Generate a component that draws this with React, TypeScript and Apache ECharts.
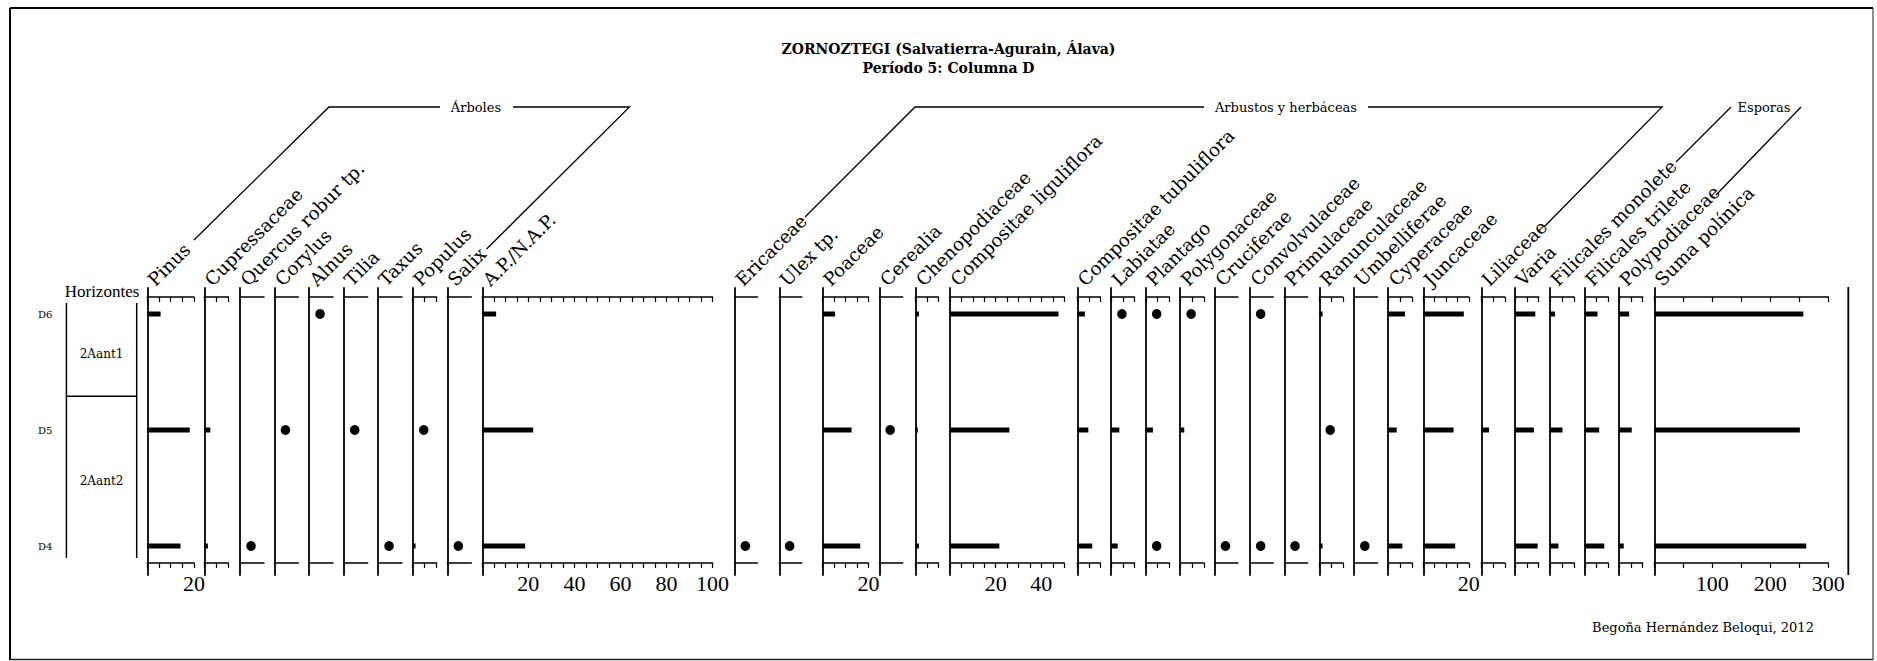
import React, { useEffect, useRef } from 'react';
import * as echarts from 'echarts';

// Pollen diagram: Zornoztegi, period 5, column D.
// Each cell is a percentage; '+' marks a taxon that is present but scarce; null is absence.
type Cell = number | '+' | null;

const samples = ['D6', 'D5', 'D4'];

const taxa = [
  'Pinus', 'Cupressaceae', 'Quercus robur tp.', 'Corylus', 'Alnus', 'Tilia', 'Taxus', 'Populus', 'Salix',
  'A.P./N.A.P.', 'Ericaceae', 'Ulex tp.', 'Poaceae', 'Cerealia', 'Chenopodiaceae', 'Compositae liguliflora',
  'Compositae tubuliflora', 'Labiatae', 'Plantago', 'Polygonaceae', 'Cruciferae', 'Convolvulaceae',
  'Primulaceae', 'Ranunculaceae', 'Umbelliferae', 'Cyperaceae', 'Juncaceae', 'Liliaceae', 'Varia',
  'Filicales monolete', 'Filicales trilete', 'Polypodiaceae', 'Suma polínica',
];

// values per sample, in the order D6, D5, D4
const pinus: Cell[] = [5.7, 18.2, 14.2];
const cupressaceae: Cell[] = [null, 2.5, 1.5];
const quercusRobur: Cell[] = [null, null, '+'];
const corylus: Cell[] = [null, '+', null];
const alnus: Cell[] = ['+', null, null];
const tilia: Cell[] = [null, '+', null];
const taxus: Cell[] = [null, null, '+'];
const populus: Cell[] = [null, '+', 1.2];
const salix: Cell[] = [null, null, '+'];
const apNap: Cell[] = [6.0, 22.1, 18.6];
const ericaceae: Cell[] = [null, null, '+'];
const ulex: Cell[] = [null, null, '+'];
const poaceae: Cell[] = [5.4, 12.6, 16.4];
const cerealia: Cell[] = [null, '+', null];
const chenopodiaceae: Cell[] = [1.5, 1.0, 1.5];
const compositaeLiguliflora: Cell[] = [47.5, 26.0, 21.6];
const compositaeTubuliflora: Cell[] = [3.3, 4.8, 6.5];
const labiatae: Cell[] = ['+', 3.5, 2.8];
const plantago: Cell[] = ['+', 3.0, '+'];
const polygonaceae: Cell[] = ['+', 1.7, null];
const cruciferae: Cell[] = [null, null, '+'];
const convolvulaceae: Cell[] = ['+', null, '+'];
const primulaceae: Cell[] = [null, null, '+'];
const ranunculaceae: Cell[] = [1.3, '+', 1.3];
const umbelliferae: Cell[] = [null, null, '+'];
const cyperaceae: Cell[] = [7.1, 3.6, 6.0];
const juncaceae: Cell[] = [17.8, 13.3, 14.0];
const liliaceae: Cell[] = [null, 3.3, null];
const varia: Cell[] = [8.6, 8.0, 9.6];
const filicalesMonolete: Cell[] = [2.1, 5.2, 3.5];
const filicalesTrilete: Cell[] = [5.4, 6.1, 8.3];
const polypodiaceae: Cell[] = [4.3, 5.4, 2.0];
const sumaPolinica: Cell[] = [257, 251, 262];

const values: Cell[][] = [
  pinus, cupressaceae, quercusRobur, corylus, alnus, tilia, taxus, populus, salix, apNap,
  ericaceae, ulex, poaceae, cerealia, chenopodiaceae, compositaeLiguliflora, compositaeTubuliflora,
  labiatae, plantago, polygonaceae, cruciferae, convolvulaceae, primulaceae, ranunculaceae,
  umbelliferae, cyperaceae, juncaceae, liliaceae, varia, filicalesMonolete, filicalesTrilete,
  polypodiaceae, sumaPolinica,
];

// axis maxima (percent, or pollen count for the sum)
const axisMax = [
  20, 10, 10, 10, 10, 10, 10, 10, 10, 100,
  10, 10, 20, 10, 10, 50, 10, 10, 10, 10, 10, 10, 10, 10, 10, 10, 20, 10, 10, 10, 10, 10, 300,
];

// bottom tick labels
const pinusTicks = [20];
const apTicks = [20, 40, 60, 80, 100];
const poaceaeTicks = [20];
const ligulifloraTicks = [20, 40];
const juncaceaeTicks = [20];
const sumaTicks = [100, 200, 300];

// stratigraphic horizons, bounded in sample-row units
const horizonNames = ['2Aant1', '2Aant2'];
const horizonTop = [-0.095, 0.71];
const horizonBottom = [0.71, 2.103];

// value at which a scarce taxon's dot is placed
const PRESENCE_AT = 4.6;

// ---- layout ----
const panelLeft = [
  147.3, 204.3, 240, 274.4, 309, 343.7, 378, 412.7, 447.3, 482.3,
  735, 779.3, 822.7, 879.5, 915.5, 950, 1077.3, 1111.2, 1145.8, 1180.2, 1214.8, 1250,
  1284.3, 1319.5, 1354, 1388.2, 1423.3, 1481.3, 1515, 1550, 1584.8, 1619, 1654.3,
];
const panelWidth = [
  46.7, 24, 24, 24, 24, 24, 24, 24, 24, 230.3,
  22.5, 22.5, 45.8, 23.2, 22.8, 114.2, 23, 23.3, 23.7, 23.8, 23.2, 23.2,
  23.3, 23.3, 23.5, 23.6, 45.5, 23.5, 23.6, 24, 23.5, 23.6, 174,
];
const tickLabels: Record<number, number[]> = {
  0: pinusTicks, 9: apTicks, 12: poaceaeTicks, 15: ligulifloraTicks, 26: juncaceaeTicks, 32: sumaTicks,
};

const GRID_TOP = 288;
const GRID_H = 287;
const ROW_GAP = 116;
const Y_MIN = -26 / ROW_GAP;
const Y_MAX = 2 + 29 / ROW_GAP;
const TOP_AXIS_OFFSET = -9;
const BOTTOM_AXIS_OFFSET = -12;
const BAR_H = 5;

const SERIF = '"DejaVu Serif", serif';
const NUM_SERIF = '"Liberation Serif", serif';
const INK = '#000';

function buildOption(): echarts.EChartsOption {
  const grids: any[] = [];
  const xAxes: any[] = [];
  const yAxes: any[] = [];
  const series: any[] = [];
  const graphics: any[] = [];

  taxa.forEach((name, i) => {
    const vals = values[i];
    const hasBars = vals.some((v) => typeof v === 'number');
    const tickStep = axisMax[i] === 300 ? 50 : 5;
    const labels = tickLabels[i] || [];

    grids.push({
      left: panelLeft[i], top: GRID_TOP, width: panelWidth[i], height: GRID_H,
      containLabel: false, outerBoundsMode: 'none',
    });

    const axisBase = {
      gridIndex: i, type: 'value', min: 0, max: axisMax[i], interval: tickStep,
      splitLine: { show: false },
      axisLine: { show: true, onZero: false, lineStyle: { color: INK, width: 1.5 } },
    };
    xAxes.push({
      ...axisBase, position: 'top', offset: TOP_AXIS_OFFSET,
      axisTick: { show: hasBars, inside: true, length: 5, lineStyle: { color: INK, width: 1.2 } },
      axisLabel: { show: false },
    });
    xAxes.push({
      ...axisBase, position: 'bottom', offset: BOTTOM_AXIS_OFFSET,
      axisTick: { show: hasBars, inside: false, length: 5, lineStyle: { color: INK, width: 1.2 } },
      axisLabel: {
        show: labels.length > 0, customValues: labels, margin: 9,
        color: INK, fontFamily: NUM_SERIF, fontSize: 22,
      },
    });
    yAxes.push({
      gridIndex: i, type: 'value', min: Y_MIN, max: Y_MAX, inverse: true,
      axisLine: { show: true, onZero: false, lineStyle: { color: INK, width: 1.8 } },
      axisTick: { show: false }, axisLabel: { show: false }, splitLine: { show: false },
    });

    const bars: number[][] = [];
    const dots: number[][] = [];
    vals.forEach((v, row) => {
      if (typeof v === 'number') bars.push([v, row]);
      else if (v === '+') dots.push([PRESENCE_AT, row]);
    });

    if (bars.length) {
      series.push({
        type: 'custom', name, xAxisIndex: 2 * i + 1, yAxisIndex: i, data: bars,
        renderItem: (_p: any, api: any) => {
          const v = api.value(0);
          const r = api.value(1);
          const a = api.coord([0, r]);
          const b = api.coord([v, r]);
          return {
            type: 'rect',
            shape: { x: a[0], y: a[1] - BAR_H / 2, width: b[0] - a[0], height: BAR_H },
            style: { fill: INK },
          };
        },
      });
    }
    if (dots.length) {
      series.push({
        type: 'scatter', name, xAxisIndex: 2 * i + 1, yAxisIndex: i, data: dots,
        symbol: 'circle', symbolSize: [9.5, 10], itemStyle: { color: INK, opacity: 1 },
      });
    }

    graphics.push({
      type: 'text', x: panelLeft[i] + 10, y: 289, rotation: Math.PI / 4,
      style: {
        text: name, x: 0, y: 0, fill: INK, fontFamily: SERIF, fontSize: 18.3,
        textAlign: 'left', textVerticalAlign: 'bottom', align: 'left', verticalAlign: 'bottom',
      },
    });
  });

  // horizons column with the sample names
  const hi = taxa.length;
  grids.push({ left: 66.4, top: GRID_TOP, width: 70.3, height: GRID_H, containLabel: false, outerBoundsMode: 'none' });
  xAxes.push({ gridIndex: hi, type: 'value', min: 0, max: 1, show: false });
  yAxes.push({
    gridIndex: hi, type: 'value', min: Y_MIN, max: Y_MAX, inverse: true,
    axisLine: { show: false }, axisTick: { show: false }, splitLine: { show: false },
    axisLabel: {
      show: true, customValues: [0, 1, 2], formatter: (v: number) => samples[Math.round(v)],
      margin: 14, color: INK, fontFamily: SERIF, fontSize: 10,
    },
  });
  series.push({
    type: 'custom', name: 'Horizontes', xAxisIndex: 2 * hi, yAxisIndex: hi,
    data: horizonNames.map((_, k) => [horizonTop[k], horizonBottom[k]]),
    renderItem: (p: any, api: any) => {
      const k = p.dataIndex;
      const tl = api.coord([0, api.value(0)]);
      const br = api.coord([1, api.value(1)]);
      const ls = { stroke: INK, lineWidth: 1.5 };
      const children: any[] = [
        { type: 'line', shape: { x1: tl[0], y1: tl[1], x2: tl[0], y2: br[1] }, style: ls },
        { type: 'line', shape: { x1: br[0], y1: tl[1], x2: br[0], y2: br[1] }, style: ls },
        {
          type: 'text', x: (tl[0] + br[0]) / 2, y: (tl[1] + br[1]) / 2 + 4,
          style: {
            text: horizonNames[k], fill: INK, fontFamily: SERIF, fontSize: 12,
            textAlign: 'center', textVerticalAlign: 'middle', align: 'center', verticalAlign: 'middle',
          },
        },
      ];
      if (k < horizonNames.length - 1) {
        children.push({ type: 'line', shape: { x1: tl[0], y1: br[1], x2: br[0], y2: br[1] }, style: ls });
      }
      return { type: 'group', children };
    },
  });

  const txt = (text: string, x: number, y: number, size: number, extra: any = {}) => ({
    type: 'text', x, y,
    style: {
      text, fill: INK, fontFamily: SERIF, fontSize: size,
      textAlign: 'center', textVerticalAlign: 'middle', align: 'center', verticalAlign: 'middle', ...extra,
    },
  });
  const poly = (points: number[][]) => ({
    type: 'polyline', shape: { points }, style: { stroke: INK, lineWidth: 1.3, fill: null },
  });

  graphics.push(
    // frame
    { type: 'line', shape: { x1: 10, y1: 8, x2: 1873, y2: 8 }, style: { stroke: INK, lineWidth: 2 } },
    { type: 'line', shape: { x1: 10, y1: 8, x2: 10, y2: 660 }, style: { stroke: INK, lineWidth: 2 } },
    { type: 'line', shape: { x1: 1873, y1: 8, x2: 1873, y2: 660 }, style: { stroke: '#444', lineWidth: 1.2 } },
    { type: 'line', shape: { x1: 10, y1: 659.5, x2: 1873, y2: 659.5 }, style: { stroke: '#222', lineWidth: 1.5 } },
    // right closing line of the diagram
    { type: 'line', shape: { x1: 1848.3, y1: 287, x2: 1848.3, y2: 575 }, style: { stroke: INK, lineWidth: 1.8 } },
    txt('ZORNOZTEGI (Salvatierra-Agurain, Álava)', 948.5, 49, 14, { fontWeight: 'bold' }),
    txt('Período 5: Columna D', 948.5, 68, 14, { fontWeight: 'bold' }),
    txt('Horizontes', 102, 291, 15, { fontFamily: NUM_SERIF, fontSize: 17 }),
    txt('Begoña Hernández Beloqui, 2012', 1703, 627, 13),
    // group brackets
    poly([[194, 240], [329, 107], [440, 107]]),
    poly([[513, 107], [629.5, 107], [486.6, 249]]),
    txt('Árboles', 476, 107, 13),
    poly([[805, 217], [915, 107], [1204, 107]]),
    poly([[1368, 107], [1662, 107], [1544, 227]]),
    txt('Arbustos y herbáceas', 1286, 107, 13),
    poly([[1676, 162], [1731, 107]]),
    poly([[1716, 195], [1801, 107]]),
    txt('Esporas', 1764, 107, 13),
  );

  return {
    animation: false,
    backgroundColor: '#fff',
    grid: grids,
    xAxis: xAxes,
    yAxis: yAxes,
    series,
    graphic: { elements: graphics },
  } as any;
}

export default function App() {
  const ref = useRef<HTMLDivElement>(null);
  useEffect(() => {
    if (!ref.current) return;
    const chart = echarts.init(ref.current, undefined, { renderer: 'svg' });
    chart.setOption(buildOption());
    return () => chart.dispose();
  }, []);
  return (
    <div
      ref={ref}
      style={{ position: 'fixed', left: 0, top: 0, width: 1877, height: 661, background: '#fff' }}
    />
  );
}
